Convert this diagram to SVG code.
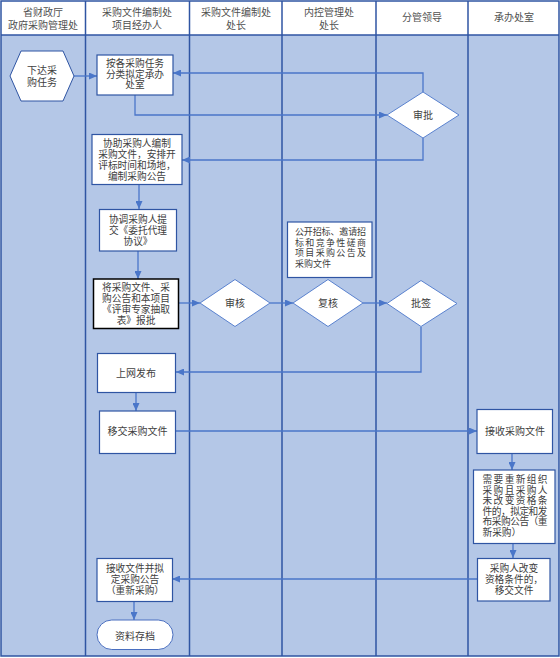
<svg xmlns="http://www.w3.org/2000/svg" width="560" height="658" viewBox="0 0 560 658">
<defs>
<marker id="ah" markerUnits="userSpaceOnUse" markerWidth="8" markerHeight="7" refX="8" refY="3.5" orient="auto">
<path d="M0,0 L8,3.5 L0,7 z" fill="#4a76c9"/>
</marker>
<style>
text{font-family:"Liberation Sans","Noto Sans CJK SC",sans-serif;font-size:9.7px;fill:#404040;text-anchor:middle;dominant-baseline:central}
.hd{fill:#505050;font-size:10px}
.lt{text-anchor:start;font-size:9px}
.box{fill:#fff;stroke:#2f55a3;stroke-width:1.2}
.dia{fill:#fff;stroke:#5a82cf;stroke-width:1}
.lane{stroke:#2f55a3;stroke-width:1.5;fill:none}
.con path{fill:none;stroke:#4a76c9;stroke-width:1.3;marker-end:url(#ah)}
</style>
</defs>
<rect x="0" y="0" width="560" height="658" fill="#fff"/>
<rect x="1" y="35" width="558" height="621" fill="#b4c7e7"/>
<g id="lanes">
<rect class="lane" x="1" y="1" width="558" height="655"/>
<line class="lane" x1="1" y1="35" x2="559" y2="35"/>
<line class="lane" x1="85.5" y1="1" x2="85.5" y2="656"/>
<line class="lane" x1="189.5" y1="1" x2="189.5" y2="656"/>
<line class="lane" x1="282" y1="1" x2="282" y2="656"/>
<line class="lane" x1="376" y1="1" x2="376" y2="656"/>
<line class="lane" x1="468" y1="1" x2="468" y2="656"/>
</g>
<g id="headers">
<text class="hd" x="43" y="12">省财政厅</text>
<text class="hd" x="43" y="25">政府采购管理处</text>
<text class="hd" x="137" y="12">采购文件编制处</text>
<text class="hd" x="137" y="25">项目经办人</text>
<text class="hd" x="236" y="12">采购文件编制处</text>
<text class="hd" x="236" y="25">处长</text>
<text class="hd" x="329" y="12">内控管理处</text>
<text class="hd" x="329" y="25">处长</text>
<text class="hd" x="422" y="17.5">分管领导</text>
<text class="hd" x="514" y="17.5">承办处室</text>
</g>
<g class="con" id="connectors">
<path d="M74,76 L97,76"/>
<path d="M135,95 L135,115 L387,115"/>
<path d="M423,92 L423,73 L173,73"/>
<path d="M423,138 L423,160 L182,160"/>
<path d="M139,184 L139,209"/>
<path d="M138,251 L138,279"/>
<path d="M179,303 L200,303"/>
<path d="M270,303 L293,303"/>
<path d="M363,303 L387,303"/>
<path d="M421,327 L421,372 L176,372"/>
<path d="M136,392 L136,411"/>
<path d="M176,431 L477,431"/>
<path d="M512,453 L512,470"/>
<path d="M513,543 L513,558"/>
<path d="M477,579 L172,579"/>
<path d="M134,602 L134,620"/>
</g>
<g id="n-start">
<polygon class="box" points="10,76 21,51 63,51 74,76 63,101 21,101" style="stroke-width:1"/>
<text x="42" y="70.5" style="font-size:10px">下达采</text>
<text x="42" y="82" style="font-size:10px">购任务</text>
</g>
<g id="n-assign">
<rect class="box" x="97" y="55" width="76" height="40"/>
<text x="135" y="63.5">按各采购任务</text>
<text x="135" y="74">分类拟定承办</text>
<text x="135" y="84.5">处室</text>
</g>
<g id="n-approve1">
<polygon class="dia" points="387,115 423,92 459,115 423,138"/>
<text x="423" y="115" style="font-size:10px">审批</text>
</g>
<g id="n-assist">
<rect class="box" x="92" y="134.5" width="90" height="50"/>
<text x="137" y="143">协助采购人编制</text>
<text x="137" y="154">采购文件，安排开</text>
<text x="137" y="165">评标时间和场地，</text>
<text x="137" y="176">编制采购公告</text>
</g>
<g id="n-agreement">
<rect class="box" x="99.5" y="209.5" width="77" height="41.5"/>
<text x="138" y="219">协调采购人提</text>
<text x="138" y="230">交《委托代理</text>
<text x="138" y="241">协议》</text>
</g>
<g id="n-submit">
<rect x="93.5" y="279" width="85" height="49.5" fill="#fff" stroke="#000" stroke-width="1.5"/>
<text x="136" y="287">将采购文件、采</text>
<text x="136" y="298">购公告和本项目</text>
<text x="136" y="309">《评审专家抽取</text>
<text x="136" y="320">表》报批</text>
</g>
<g id="n-review">
<polygon class="dia" points="200,303 235,279.5 270,303 235,326.5"/>
<text x="235" y="303" style="font-size:10px">审核</text>
</g>
<g id="n-note">
<rect class="box" x="287.5" y="222" width="84.5" height="55.5"/>
<text class="lt" x="295" y="232" textLength="71" lengthAdjust="spacing">公开招标、邀请招</text>
<text class="lt" x="295" y="242.5" textLength="71" lengthAdjust="spacing">标和竞争性磋商</text>
<text class="lt" x="295" y="253" textLength="71" lengthAdjust="spacing">项目采购公告及</text>
<text class="lt" x="295" y="263.5">采购文件</text>
</g>
<g id="n-recheck">
<polygon class="dia" points="293,303 328,279.5 363,303 328,326.5"/>
<text x="328" y="303" style="font-size:10px">复核</text>
</g>
<g id="n-sign">
<polygon class="dia" points="387,303.5 421,280.5 457,303.5 421,326.5"/>
<text x="421" y="303.5" style="font-size:10px">批签</text>
</g>
<g id="n-publish">
<rect class="box" x="97.5" y="353.5" width="78" height="39"/>
<text x="136" y="373" style="font-size:10px">上网发布</text>
</g>
<g id="n-transfer">
<rect class="box" x="99.5" y="411" width="76" height="42.5"/>
<text x="137.5" y="431.5" style="font-size:10px">移交采购文件</text>
</g>
<g id="n-receive">
<rect class="box" x="477" y="409.5" width="75.5" height="44"/>
<text x="515" y="431.5" style="font-size:10px">接收采购文件</text>
</g>
<g id="n-reorg">
<rect class="box" x="473.5" y="470" width="81.5" height="73.5"/>
<text class="lt" style="font-size:9.7px" x="482.5" y="479.5" textLength="65" lengthAdjust="spacing">需要重新组织</text>
<text class="lt" style="font-size:9.7px" x="482.5" y="490" textLength="65" lengthAdjust="spacing">采购且采购人</text>
<text class="lt" style="font-size:9.7px" x="482.5" y="500.5" textLength="65" lengthAdjust="spacing">未改变资格条</text>
<text class="lt" style="font-size:9.7px" x="482.5" y="511" textLength="65" lengthAdjust="spacing">件的，拟定和发</text>
<text class="lt" style="font-size:9.7px" x="482.5" y="521.5" textLength="65" lengthAdjust="spacing">布采购公告（重</text>
<text class="lt" style="font-size:9.7px" x="482.5" y="532.5">新采购）</text>
</g>
<g id="n-change">
<rect class="box" x="477.5" y="558.5" width="72.5" height="42.5"/>
<text x="514" y="568.5">采购人改变</text>
<text x="514" y="579.5">资格条件的，</text>
<text x="514" y="590.5">移交文件</text>
</g>
<g id="n-rereceive">
<rect class="box" x="97" y="558.5" width="75.5" height="43"/>
<text x="135" y="568.5">接收文件并拟</text>
<text x="135" y="579.5">定采购公告</text>
<text x="135" y="590.5">（重新采购）</text>
</g>
<g id="n-archive">
<rect class="dia" x="97" y="620" width="76" height="29.5" rx="14.75" style="stroke:#4a6fc0"/>
<text x="135" y="636" style="font-size:10px">资料存档</text>
</g>
</svg>
